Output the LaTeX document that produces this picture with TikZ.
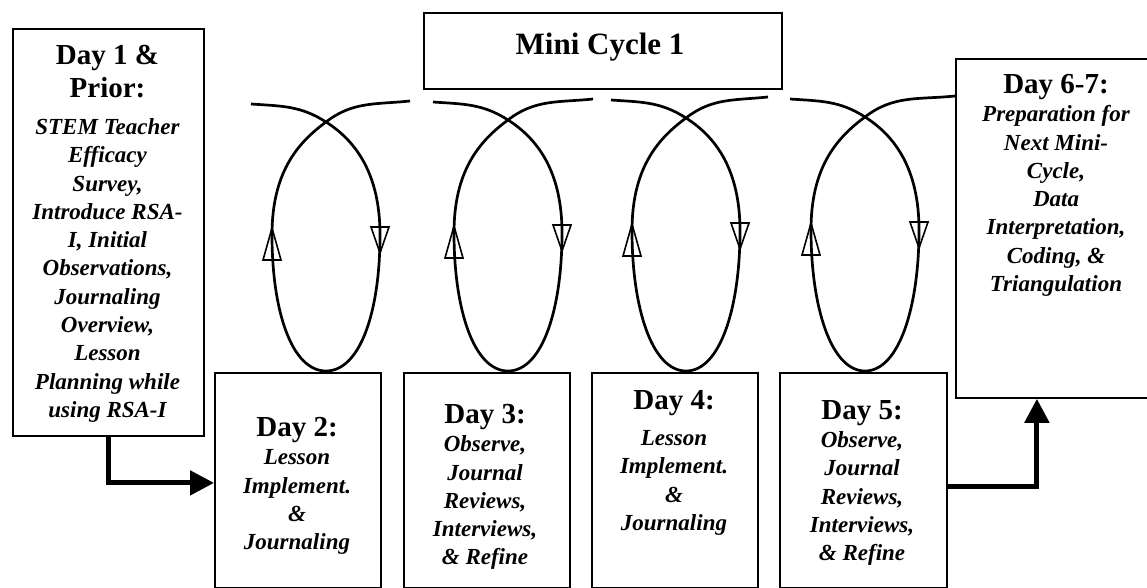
\documentclass[tikz,border=0pt]{standalone}
\usepackage{fontspec}
\setmainfont{Liberation Serif}
\usetikzlibrary{arrows.meta}

\newcommand\hd{\fontsize{29}{33}\selectfont\bfseries\upshape}

\tikzset{
  panel/.style={draw, line width=1.8pt, inner sep=0pt, anchor=north west},
  body/.style={inner sep=0pt, anchor=north, align=center,
    font=\fontsize{23}{28.3}\selectfont\bfseries\itshape},
  loopline/.style={line width=2.7pt},
  tip/.style={line width=1.6pt, line join=miter},
  flow/.style={line width=5pt, -{Triangle[length=24pt,width=24pt]}},
}

\begin{document}
\begin{tikzpicture}[x=1pt, y=-1pt]
\clip (0,0) rectangle (1147,588);

% boxes
\node[panel, minimum width=191pt, minimum height=407pt] (p1) at (12,28) {};
\node[panel, minimum width=358pt, minimum height=76pt] (mc) at (423,12) {};
\node[panel, minimum width=166pt, minimum height=215pt] (p2) at (214,372) {};
\node[panel, minimum width=166pt, minimum height=215pt] (p3) at (403,372) {};
\node[panel, minimum width=166pt, minimum height=215pt] (p4) at (591,372) {};
\node[panel, minimum width=167pt, minimum height=215pt] (p5) at (779,372) {};
\node[panel, minimum width=205pt, minimum height=339pt] (p67) at (955,58) {};

% texts
\node[inner sep=0pt, anchor=north, font=\fontsize{31}{36}\selectfont\bfseries] (mct) at (600,33) {Mini Cycle 1};

\node[body] (t1) at (107.5,45) {\hd Day 1 \&\\[4.7pt]\hd Prior:\\[8.7pt]
  STEM Teacher\\ Efficacy\\ Survey,\\ Introduce RSA-\\ I, Initial\\ Observations,\\
  Journaling\\ Overview,\\ Lesson\\ Planning while\\ using RSA-I};

\node[body] (t2) at (297,417) {\hd Day 2:\\ Lesson\\ Implement.\\ \&\\ Journaling};
\node[body] (t3) at (485,404) {\hd Day 3:\\ Observe,\\ Journal\\ Reviews,\\ Interviews,\\ \& Refine};
\node[body] (t4) at (674,390) {\hd Day 4:\\[8pt] Lesson\\ Implement.\\ \&\\ Journaling};
\node[body] (t5) at (862,400) {\hd Day 5:\\ Observe,\\ Journal\\ Reviews,\\ Interviews,\\ \& Refine};
\node[body] (t67) at (1056,74) {\hd Day 6-7:\\ Preparation for\\ Next Mini-\\ Cycle,\\ Data\\
  Interpretation,\\ Coding, \&\\ Triangulation};

% the four daily loops with their direction marks
\foreach \cx/\cy/\rx in {326/122/84, 508/120/85, 686/118/82, 865/117/90} {
  \draw[loopline] (\cx-75,\cy-18) to[out=-4,in=147] (\cx,\cy)
    .. controls (\cx+30,\cy+19) and (\cx+54,\cy+52) .. (\cx+54,\cy+113)
    .. controls (\cx+54,\cy+190) and (\cx+34,371) .. (\cx,371)
    .. controls (\cx-34,371) and (\cx-54,\cy+190) .. (\cx-54,\cy+113)
    .. controls (\cx-54,\cy+52) and (\cx-30,\cy+22) .. (\cx,\cy)
    to[out=38,in=186] (\cx+\rx,\cy-21);
  \draw[tip] (\cx-54,\cy+106) -- (\cx-63,\cy+138) -- (\cx-45,\cy+138) -- cycle;
  \draw[tip] (\cx+54,\cy+131) -- (\cx+45,\cy+105) -- (\cx+63,\cy+105) -- cycle;
}

% flow in and out of the cycle
\draw[flow] (p1.south) |- ([yshift=-2.5pt]p2.west);
\draw[flow] ([yshift=-6.5pt]p5.east) -| ([xshift=-21.5pt]p67.south);
\end{tikzpicture}
\end{document}
